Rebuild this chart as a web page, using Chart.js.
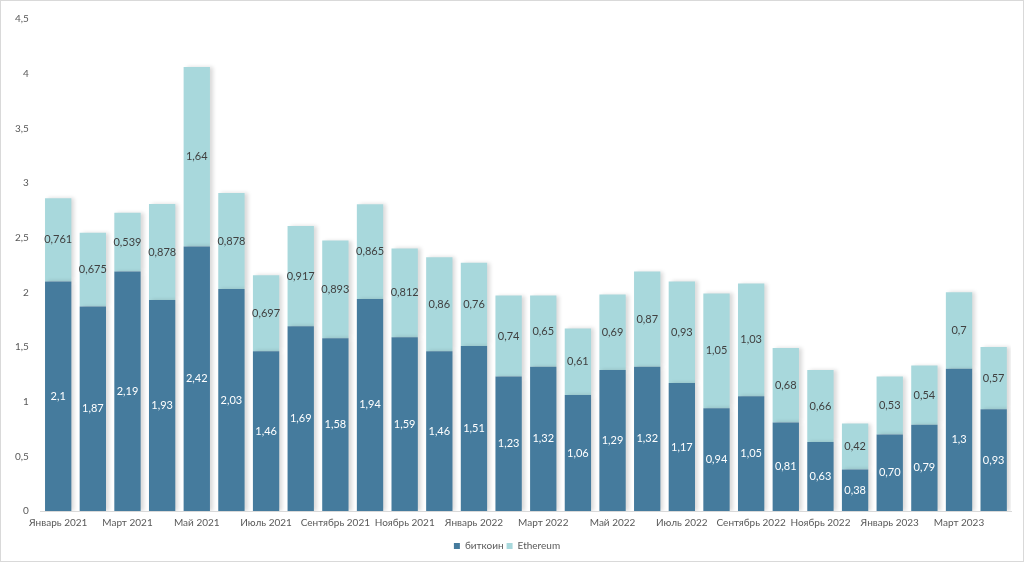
<!DOCTYPE html>
<html>
<head>
<meta charset="utf-8">
<script src="https://cdn.jsdelivr.net/npm/chart.js@4.4.1/dist/chart.umd.min.js"></script>
<style>
    html, body { margin: 0; padding: 0; background: #fff; }
    #wrap { position: absolute; left: 0; top: 0; width: 1022px; height: 560px; border: 1px solid #d9d9d9; }
    canvas { display: block; }
</style>
</head>
<body>
<div id="wrap"><canvas id="chart" width="1022" height="560"></canvas></div>
<script>
// Months (Jan 2021 - Apr 2023)
const months = [
    'Январь 2021', 'Февраль 2021', 'Март 2021', 'Апрель 2021', 'Май 2021', 'Июнь 2021',
    'Июль 2021', 'Август 2021', 'Сентябрь 2021', 'Октябрь 2021', 'Ноябрь 2021', 'Декабрь 2021',
    'Январь 2022', 'Февраль 2022', 'Март 2022', 'Апрель 2022', 'Май 2022', 'Июнь 2022',
    'Июль 2022', 'Август 2022', 'Сентябрь 2022', 'Октябрь 2022', 'Ноябрь 2022', 'Декабрь 2022',
    'Январь 2023', 'Февраль 2023', 'Март 2023', 'Апрель 2023'
];

const btcValues = [2.1, 1.87, 2.19, 1.93, 2.42, 2.03, 1.46, 1.69, 1.58, 1.94, 1.59, 1.46, 1.51, 1.23,
    1.32, 1.06, 1.29, 1.32, 1.17, 0.94, 1.05, 0.81, 0.63, 0.38, 0.70, 0.79, 1.3, 0.93];
const ethValues = [0.761, 0.675, 0.539, 0.878, 1.64, 0.878, 0.697, 0.917, 0.893, 0.865, 0.812, 0.86,
    0.76, 0.74, 0.65, 0.61, 0.69, 0.87, 0.93, 1.05, 1.03, 0.68, 0.66, 0.42, 0.53, 0.54, 0.7, 0.57];

// Label text as printed on the bars
const btcLabels = ['2,1', '1,87', '2,19', '1,93', '2,42', '2,03', '1,46', '1,69', '1,58', '1,94', '1,59',
    '1,46', '1,51', '1,23', '1,32', '1,06', '1,29', '1,32', '1,17', '0,94', '1,05', '0,81', '0,63', '0,38',
    '0,70', '0,79', '1,3', '0,93'];
const ethLabels = ['0,761', '0,675', '0,539', '0,878', '1,64', '0,878', '0,697', '0,917', '0,893', '0,865',
    '0,812', '0,86', '0,76', '0,74', '0,65', '0,61', '0,69', '0,87', '0,93', '1,05', '1,03', '0,68', '0,66',
    '0,42', '0,53', '0,54', '0,7', '0,57'];

const yTicks = [0, 0.5, 1, 1.5, 2, 2.5, 3, 3.5, 4, 4.5];

const FONT = 'Lato, "Open Sans", sans-serif';

// Soft shadow on the right of each bar
const shadowPlugin = {
    id: 'barShadow',
    beforeDatasetDraw(chart) {
        const ctx = chart.ctx;
        ctx.save();
        ctx.shadowColor = 'rgba(0, 0, 0, 0.15)';
        ctx.shadowBlur = 4;
        ctx.shadowOffsetX = 3;
        ctx.shadowOffsetY = 0;
    },
    afterDatasetDraw(chart) {
        chart.ctx.restore();
    }
};

// Value labels centred in each segment
const labelPlugin = {
    id: 'segLabels',
    afterDatasetsDraw(chart) {
        const ctx = chart.ctx;
        const sets = [
            { labels: btcLabels, color: '#ffffff' },
            { labels: ethLabels, color: '#404040' }
        ];
        ctx.save();
        ctx.font = '11px ' + FONT;
        ctx.textAlign = 'center';
        ctx.textBaseline = 'middle';
        sets.forEach((s, di) => {
            chart.getDatasetMeta(di).data.forEach((bar, i) => {
                const p = bar.getProps(['x', 'y', 'base'], true);
                ctx.fillStyle = s.color;
                ctx.fillText(s.labels[i], p.x, (p.y + p.base) / 2);
            });
        });
        ctx.restore();
    }
};

const ctx = document.getElementById('chart').getContext('2d');
new Chart(ctx, {
    type: 'bar',
    data: {
        labels: months,
        datasets: [{
            label: 'биткоин',
            data: btcValues,
            backgroundColor: '#457b9d',
            categoryPercentage: 0.76,
            barPercentage: 1
        }, {
            label: 'Ethereum',
            data: ethValues,
            backgroundColor: '#a8d8dc',
            categoryPercentage: 0.76,
            barPercentage: 1
        }]
    },
    options: {
        responsive: false,
        animation: false,
        layout: { padding: { left: 2, right: 12, top: 8, bottom: 0 } },
        plugins: {
            legend: {
                position: 'bottom',
                labels: {
                    boxWidth: 6,
                    boxHeight: 6,
                    padding: 3,
                    color: '#595959',
                    font: { family: FONT, size: 10 }
                }
            },
            tooltip: { enabled: false }
        },
        scales: {
            x: {
                stacked: true,
                grid: { display: false, drawTicks: false },
                border: { color: '#d9d9d9' },
                afterFit: axis => { axis.height += 3; },
                ticks: {
                    autoSkip: false,
                    maxRotation: 0,
                    padding: 6,
                    color: '#595959',
                    font: { family: FONT, size: 10 },
                    callback: (v, i) => (i % 2 === 0 ? months[i] : '')
                }
            },
            y: {
                stacked: true,
                min: 0,
                max: 4.5,
                afterBuildTicks: axis => { axis.ticks = yTicks.map(v => ({ value: v })); },
                grid: { display: false, drawTicks: false },
                border: { display: false },
                ticks: {
                    padding: 12,
                    color: '#595959',
                    font: { family: FONT, size: 10 },
                    callback: v => String(v).replace('.', ',')
                }
            }
        }
    },
    plugins: [shadowPlugin, labelPlugin]
});
</script>
</body>
</html>
